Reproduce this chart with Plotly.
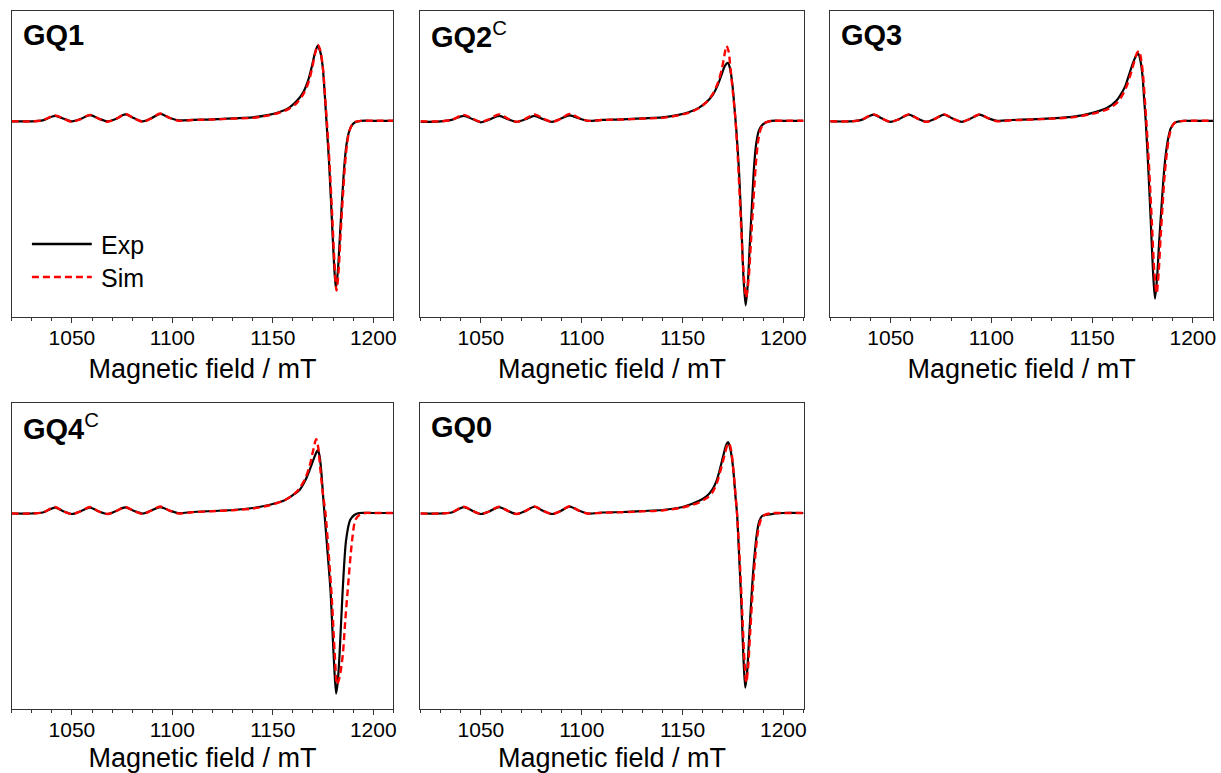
import plotly.graph_objects as go

# ---------------- data (intensity in arbitrary units) ----------------
panel_names = ["GQ1", "GQ2<sup>C</sup>", "GQ3", "GQ4<sup>C</sup>", "GQ0"]

# low-field hyperfine region (shared field positions, mT)
base_x = [1020, 1030, 1035.5, 1041.5, 1046, 1050, 1054, 1059, 1063.5, 1067.7, 1072, 1076.5,
          1081, 1085.3, 1089.5, 1094, 1098.5, 1103, 1110, 1120, 1130]

gq1_exp_base = [-0.5, -0.5, 0.5, 5, 2, -0.5, 1.5, 5.7, 2, -0.5, 2, 6.5, 2.5, -0.5, 2.5, 7, 3, 0.5, 1, 1.5, 2.5]
gq1_sim_base = [-0.5, -0.5, 0.5, 5.5, 2, -1, 1.5, 6, 2, -1, 2, 6.8, 2.5, -1, 2.5, 7.3, 3, 0, 0.8, 1.3, 2.2]
gq2_exp_base = [-1, -0.5, 1, 5, 1.5, -1.5, 1, 5, 1.5, -1, 1.5, 5, 1.5, -1, 2, 5.5, 2.5, 0, 1, 1.5, 2.5]
gq2_sim_base = [-0.5, -0.5, 1, 6, 2, -1, 1.5, 6.5, 2, -1, 2, 6.5, 2, -1, 2, 7, 3, 0, 0.8, 1.3, 2.2]
gq3_exp_base = [-0.5, -0.5, 1, 6.3, 2, -1, 1.5, 6.3, 2, -1, 2, 6.3, 2, -1, 2, 6.3, 2.5, 0, 0.8, 1.5, 2.5]
gq3_sim_base = [-0.5, -0.5, 1, 6.5, 2, -1, 1.5, 6.5, 2, -1, 2, 6.5, 2, -1, 2, 6.5, 2.5, -0.5, 0.5, 1.2, 2.2]
gq4_exp_base = [-0.5, -0.5, 0.5, 5.5, 1.5, -1, 1.5, 5.5, 1.5, -1, 2, 5.7, 2, -0.5, 2.5, 6, 2.5, 0, 1, 2, 3]
gq4_sim_base = [-0.5, -0.5, 0.5, 6, 1.5, -1, 1.5, 6, 1.5, -1, 2, 6, 2, -1, 2.5, 6.5, 2.5, -0.5, 0.8, 1.8, 2.8]
gq0_exp_base = [-0.5, -0.5, 0.5, 6, 2, -1, 1.5, 6, 2, -1, 2, 6.3, 2, -1, 2, 6.5, 2.5, -0.5, 0.5, 1, 2]
gq0_sim_base = [-0.5, -0.5, 0.5, 6.3, 2, -1, 1.5, 6.3, 2, -1, 2, 6.5, 2, -1, 2, 6.8, 2.5, -0.5, 0.3, 0.8, 1.6]

# main resonance region (field, mT / intensity)
gq1_exp_px = [1140, 1148, 1153, 1158, 1162, 1165, 1167.5, 1169.5, 1171, 1172.3, 1173.5, 1174.8, 1175.8, 1176.7,
              1178, 1179.2, 1180.4, 1181.4, 1182.4, 1183.5, 1184.6, 1185.6, 1186.6, 1187.8, 1189.2, 1191, 1194, 1200, 1210]
gq1_exp_py = [3.5, 6, 8.5, 13, 20, 28, 40, 55, 68, 75, 70, 55, 28, 0,
              -42, -90, -140, -168, -150, -112, -75, -45, -25, -12, -5, -1.5, 0, 0, 0]
gq1_sim_px = [1140, 1148, 1153, 1158, 1162, 1165, 1167.5, 1169.5, 1171, 1172.5, 1173.7, 1175, 1176, 1177,
              1178.3, 1179.5, 1180.7, 1181.7, 1182.7, 1183.8, 1184.9, 1185.9, 1186.9, 1188, 1189.4, 1191, 1194, 1200, 1210]
gq1_sim_py = [3, 5.5, 8, 12, 18, 26, 37, 52, 67, 76, 70, 52, 25, -3,
              -45, -92, -142, -170, -152, -112, -75, -45, -24, -11, -4, -1, 0, 0, 0]

gq2_exp_px = [1140, 1148, 1153, 1158, 1162, 1165, 1167.5, 1169.5, 1171, 1172.5, 1173.6, 1174.8, 1175.8, 1176.7,
              1178, 1179.2, 1180.3, 1181.3, 1182.3, 1183.4, 1184.4, 1185.5, 1186.6, 1187.8, 1189.2, 1191, 1194, 1200, 1210]
gq2_exp_py = [3.5, 6, 8.5, 13, 19, 26, 36, 47, 55, 58, 52, 35, 12, -10,
              -50, -105, -160, -185, -165, -122, -85, -45, -22, -10, -5, -2, 0, 0, 0]
gq2_sim_px = [1140, 1148, 1153, 1158, 1162, 1165, 1167.5, 1169.5, 1170.8, 1171.8, 1172.8, 1173.8, 1175, 1176.2,
              1177.5, 1178.8, 1180.2, 1181.5, 1182.7, 1183.9, 1185.1, 1186.3, 1187.5, 1188.8, 1190.3, 1192, 1195, 1200, 1210]
gq2_sim_py = [3, 5.5, 8, 12.5, 19, 27, 38, 52, 66, 75, 70, 52, 28, 2,
              -40, -95, -150, -177, -160, -122, -82, -45, -20, -8, -3, -1, 0, 0, 0]

gq3_exp_px = [1140, 1149.3, 1157.5, 1162, 1164.1, 1166.5, 1168.3, 1170.3, 1171.8, 1172.9, 1174, 1175, 1175.8, 1176.6,
              1177.8, 1179, 1180.2, 1181.2, 1182.3, 1183.3, 1184.3, 1185.4, 1186.4, 1187.7, 1188.9, 1190.5, 1192.2, 1195, 1200, 1210]
gq3_exp_py = [4, 7.5, 13, 20, 26, 35, 46, 58, 65, 67, 60, 45, 22, 0,
              -45, -96, -150, -178, -155, -120, -90, -58, -36, -18, -8, -3, -1, 0, 0, 0]
gq3_sim_px = [1140, 1149, 1157.5, 1162, 1164.5, 1167, 1169, 1171, 1172.3, 1173.3, 1174.3, 1175.3, 1176.2, 1177,
              1178.3, 1179.6, 1180.9, 1182, 1183, 1184, 1185, 1186, 1187.1, 1188.3, 1189.6, 1191, 1193, 1196, 1200, 1210]
gq3_sim_py = [3.5, 6.5, 11.5, 17.5, 24, 34, 46, 60, 68, 70, 62, 45, 20, -3,
              -48, -100, -152, -173, -152, -116, -84, -54, -32, -15, -6, -2, -0.5, 0, 0, 0]

gq4_exp_px = [1140, 1148, 1155, 1160, 1163.3, 1166, 1168.3, 1170.3, 1171.5, 1172.4, 1173.3, 1174.2, 1175, 1175.7,
              1177.2, 1178.7, 1180.3, 1181.5, 1182.3, 1183.2, 1184.8, 1186.5, 1188.5, 1190.6, 1193, 1200, 1210]
gq4_exp_py = [5, 8, 12, 18, 23, 32, 43, 54, 60, 63, 57, 40, 18, 0,
              -38, -77, -143, -181, -170, -143, -77, -27, -7, -2, 0, 0, 0]
gq4_sim_px = [1140, 1148, 1155, 1160, 1163, 1166, 1168.3, 1170, 1171.6, 1172.6, 1173.6, 1174.9, 1176.2,
              1177.8, 1179.5, 1180.8, 1182, 1183.2, 1184.8, 1186, 1187.3, 1189.5, 1191.1, 1193.1, 1196, 1200, 1210]
gq4_sim_py = [4.5, 7.5, 12, 18, 24, 34, 47, 62, 74, 66, 45, 20, 0,
              -40, -90, -140, -172, -165, -143, -110, -77, -27, -7, -2, 0, 0, 0]

gq0_exp_px = [1140, 1150, 1158, 1162, 1164.6, 1166.8, 1168.8, 1170.5, 1171.6, 1172.6, 1173.6, 1174.5, 1175.4, 1176.2, 1177,
              1178.1, 1179.2, 1180.2, 1181.1, 1182, 1183.2, 1184.4, 1185.6, 1186.9, 1188.1, 1189.4, 1191, 1193, 1196, 1200, 1210]
gq0_exp_py = [3, 6, 12, 17, 23, 32, 46, 60, 68, 71, 65, 55, 38, 18, 0,
              -45, -93, -145, -175, -160, -118, -77, -45, -20, -8, -3, -2, -1.5, -0.5, 0, 0]
gq0_sim_px = [1140, 1150, 1158, 1162, 1164.6, 1167, 1169, 1170.8, 1172, 1173, 1174, 1175, 1176, 1177,
              1178.3, 1179.6, 1180.7, 1181.6, 1182.5, 1183.6, 1184.8, 1186, 1187.3, 1188.6, 1190, 1192, 1195, 1200, 1210]
gq0_sim_py = [2.5, 5.5, 10.5, 15, 20, 30, 44, 58, 67, 70, 64, 48, 25, 0,
              -45, -100, -148, -170, -155, -118, -78, -45, -20, -8, -3, -1, 0, 0, 0]

exp_sets = [(gq1_exp_base, gq1_exp_px, gq1_exp_py), (gq2_exp_base, gq2_exp_px, gq2_exp_py),
            (gq3_exp_base, gq3_exp_px, gq3_exp_py), (gq4_exp_base, gq4_exp_px, gq4_exp_py),
            (gq0_exp_base, gq0_exp_px, gq0_exp_py)]
sim_sets = [(gq1_sim_base, gq1_sim_px, gq1_sim_py), (gq2_sim_base, gq2_sim_px, gq2_sim_py),
            (gq3_sim_base, gq3_sim_px, gq3_sim_py), (gq4_sim_base, gq4_sim_px, gq4_sim_py),
            (gq0_sim_base, gq0_sim_px, gq0_sim_py)]

x_major_ticks = [1050, 1100, 1150, 1200]

# ---------------- layout ----------------
W, H = 1221, 773
col_px = [(11.7, 394.3), (421.5, 805.5), (832.3, 1216)]
row_px = [(11, 316.5), (403.3, 708.5)]
cells = [(0, 0), (0, 1), (0, 2), (1, 0), (1, 1)]

FONT = "Arial, 'Liberation Sans', sans-serif"
FRAME = "#333333"

fig = go.Figure()
layout = dict(width=W, height=H, margin=dict(l=0, r=0, t=0, b=0),
              paper_bgcolor="white", plot_bgcolor="white", showlegend=False,
              font=dict(family=FONT, color="black"))
annotations = []
shapes = []

for i, (r, c) in enumerate(cells):
    n = i + 1
    xa = "x" if n == 1 else f"x{n}"
    ya = "y" if n == 1 else f"y{n}"
    xk = "xaxis" if n == 1 else f"xaxis{n}"
    yk = "yaxis" if n == 1 else f"yaxis{n}"
    x0, x1 = col_px[c]
    yt, yb = row_px[r]
    layout[xk] = dict(domain=[x0 / W, x1 / W], range=[1020, 1210], anchor=ya,
                      tickvals=x_major_ticks, ticks="outside", ticklen=5, tickwidth=1, tickcolor=FRAME,
                      minor=dict(dtick=10, tick0=1020, ticks="outside", ticklen=3, tickwidth=1, tickcolor=FRAME),
                      showline=True, linecolor=FRAME, linewidth=1.2, mirror=True,
                      showgrid=False, zeroline=False, ticklabelstandoff=-3,
                      tickfont=dict(size=21, family=FONT, color="black"),
                      title=dict(text="Magnetic field / mT", font=dict(size=27, family=FONT, color="black"),
                                 standoff=11))
    layout[yk] = dict(domain=[1 - yb / H, 1 - yt / H], range=[-196, 110], anchor=xa,
                      showticklabels=False, ticks="", showline=True, linecolor=FRAME, linewidth=1.2,
                      mirror=True, showgrid=False, zeroline=False)

    eb, ex, ey = exp_sets[i]
    sb, sx, sy = sim_sets[i]
    fig.add_trace(go.Scatter(x=base_x + ex, y=eb + ey, mode="lines", name="Exp",
                             line=dict(color="black", width=2.2, shape="spline", smoothing=0.8),
                             xaxis=xa, yaxis=ya))
    fig.add_trace(go.Scatter(x=base_x + sx, y=sb + sy, mode="lines", name="Sim",
                             line=dict(color="#ff0000", width=2.4, dash="7px,4px", shape="spline", smoothing=0.8),
                             xaxis=xa, yaxis=ya))

    parts = panel_names[i].split("<sup>")
    label = f"<b>{parts[0]}</b>" + (("<sup>" + parts[1]) if len(parts) > 1 else "")
    annotations.append(dict(text=label, xref="paper", yref="paper", x=(x0 + 9) / W, y=1 - (yt + 24) / H,
                            xanchor="left", yanchor="middle", showarrow=False,
                            font=dict(size=29, family=FONT, color="black")))

# legend drawn in the first panel
leg = [("Exp", "black", "solid", 244), ("Sim", "#ff0000", "7px,4px", 277)]
for name, colr, dsh, ypx in leg:
    shapes.append(dict(type="line", xref="paper", yref="paper", x0=32 / W, x1=92 / W,
                       y0=1 - ypx / H, y1=1 - ypx / H, line=dict(color=colr, width=2.4, dash=dsh)))
    annotations.append(dict(text=name, xref="paper", yref="paper", x=99 / W, y=1 - (ypx + 1) / H,
                            xanchor="left", yanchor="middle", showarrow=False,
                            font=dict(size=25, family=FONT, color="black")))

layout["annotations"] = annotations
layout["shapes"] = shapes
fig.update_layout(**layout)
fig.write_html("out.html", config={"displayModeBar": False},
               post_script="document.body.style.margin='0';document.body.style.overflow='hidden';")
